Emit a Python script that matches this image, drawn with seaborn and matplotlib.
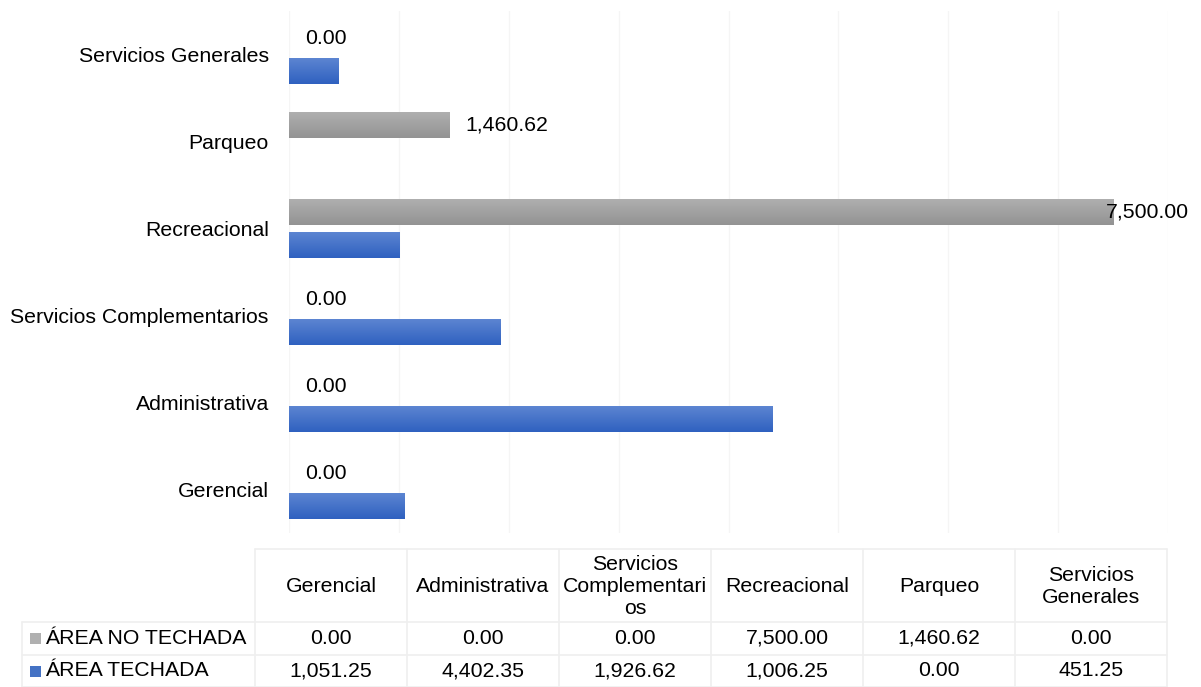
import numpy as np
import pandas as pd
import matplotlib
matplotlib.use("Agg")
import matplotlib.pyplot as plt
from matplotlib.colors import LinearSegmentedColormap
import seaborn as sns

# ---------------- data ----------------
categories = ["Gerencial", "Administrativa", "Servicios Complementarios",
              "Recreacional", "Parqueo", "Servicios Generales"]
header_labels = ["Gerencial", "Administrativa", "Servicios\nComplementari\nos",
                 "Recreacional", "Parqueo", "Servicios\nGenerales"]
series_names = ["ÁREA NO TECHADA", "ÁREA TECHADA"]
no_techada = [0.00, 0.00, 0.00, 7500.00, 1460.62, 0.00]
techada = [1051.25, 4402.35, 1926.62, 1006.25, 0.00, 451.25]

colors = {"ÁREA NO TECHADA": "#A5A5A5", "ÁREA TECHADA": "#4472C4"}
grad = {"ÁREA NO TECHADA": ("#B0B0B0", "#939393"),
        "ÁREA TECHADA": ("#5E86D2", "#2F61C0")}

df = pd.DataFrame({
    "cat": categories * 2,
    "serie": [series_names[0]] * len(categories) + [series_names[1]] * len(categories),
    "valor": no_techada + techada,
})

sns.set_theme(style="white")
plt.rcParams["font.family"] = ["Liberation Sans", "DejaVu Sans"]
FS = 15.3

fig = plt.figure(figsize=(12.01, 6.87), dpi=100)
W, H = 1201, 687
ax = fig.add_axes([289 / W, 1 - 533 / H, (1168 - 289) / W, (533 - 11) / H])

order = categories[::-1]
sns.barplot(data=df, y="cat", x="valor", hue="serie", order=order,
            hue_order=series_names, palette=colors, orient="h",
            width=0.75, gap=0.2, ax=ax, legend=False, saturation=1,
            linewidth=0)

xmax = 8000
ax.set_xlim(0, xmax)
ax.set_ylim(len(order) - 0.5, -0.5)
ax.set_xticks(np.arange(0, xmax + 1, 1000))
ax.tick_params(axis="x", labelbottom=False, length=0)
ax.tick_params(axis="y", length=0, pad=14.5, labelsize=FS, labelcolor="#000000")
ax.set_xlabel("")
ax.set_ylabel("")
ax.grid(axis="x", color="#F5F5F5", linewidth=1)
ax.grid(axis="y", visible=False)
ax.set_axisbelow(True)
for s in ax.spines.values():
    s.set_visible(False)

# gradient fill on the bars
patches = list(ax.patches)
n = len(order)
for i, p in enumerate(patches):
    serie = series_names[i // n]
    w = p.get_width()
    if w <= 0:
        p.set_visible(False)
        continue
    x0, y0, h = p.get_x(), p.get_y(), p.get_height()
    cmap = LinearSegmentedColormap.from_list("g", list(grad[serie]))
    im = ax.imshow(np.linspace(0, 1, 64).reshape(-1, 1), cmap=cmap, aspect="auto",
                   extent=[x0, x0 + w, y0 + h, y0], origin="upper",
                   zorder=p.get_zorder() + 0.1, interpolation="bilinear")
    im.set_clip_path(p)
ax.set_xlim(0, xmax)
ax.set_ylim(len(order) - 0.5, -0.5)

# data labels for ÁREA NO TECHADA
for i, p in enumerate(patches[:n]):
    val = p.get_width()
    cy = p.get_y() + p.get_height() / 2
    if val > 0.9 * xmax:
        off = -7 / 1.389
    else:
        off = 16 / 1.389
    ax.annotate(f"{val:,.2f}", xy=(val, cy), xytext=(off, 0),
                textcoords="offset points", ha="left", va="center",
                fontsize=FS, color="#000000", zorder=10)

# ---------------- data table ----------------
tax = fig.add_axes([0, 0, 1, 1])
tax.set_xlim(0, W)
tax.set_ylim(H, 0)
tax.axis("off")
line_c = "#EFEFEF"
col_edges = np.linspace(255, 1167, len(categories) + 1)
row_edges = [549, 622, 655, 687]
lab_left = 22

tax.plot([col_edges[0], col_edges[-1]], [row_edges[0]] * 2, color=line_c, lw=1.2)
for y in row_edges[1:]:
    tax.plot([lab_left, col_edges[-1]], [y, y], color=line_c, lw=1.2)
tax.plot([lab_left, lab_left], [row_edges[1], row_edges[-1]], color=line_c, lw=1.2)
for x in col_edges:
    tax.plot([x, x], [row_edges[0], row_edges[-1]], color=line_c, lw=1.2)

centers = (col_edges[:-1] + col_edges[1:]) / 2
for cx, lab in zip(centers, header_labels):
    tax.text(cx, (row_edges[0] + row_edges[1]) / 2 + 1, lab, ha="center", va="center",
             fontsize=FS, color="#000000", linespacing=1.17)

rows = [no_techada, techada]
for r, (name, vals) in enumerate(zip(series_names, rows)):
    cy = (row_edges[r + 1] + row_edges[r + 2]) / 2
    tax.add_patch(plt.Rectangle((29.5, cy - 5.5), 11, 11,
                                color=grad[name][0] if r == 0 else colors[name], lw=0))
    tax.text(45, cy, name, ha="left", va="center", fontsize=FS, color="#000000")
    for cx, v in zip(centers, vals):
        tax.text(cx, cy, f"{v:,.2f}", ha="center", va="center", fontsize=FS, color="#000000")

fig.savefig("out.png", dpi=100, facecolor="white")
